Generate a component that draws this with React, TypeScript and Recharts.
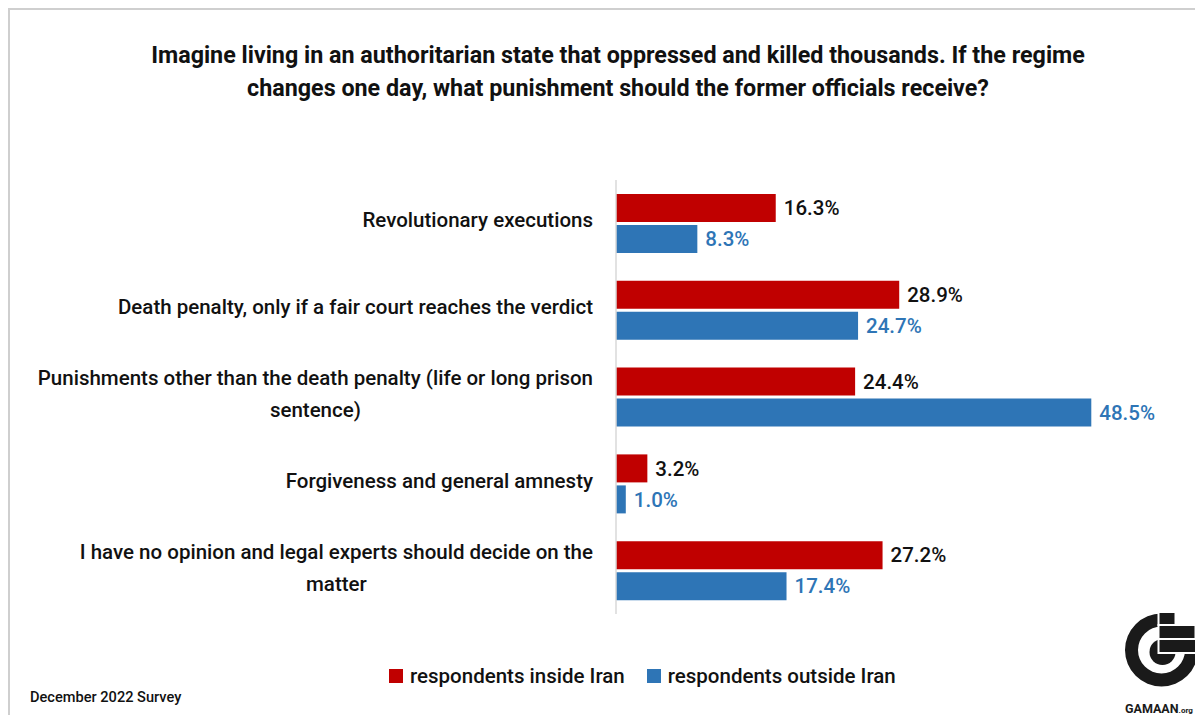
import React from "react";
import { BarChart, Bar, XAxis, YAxis, LabelList } from "recharts";

const categories = [
  ["Revolutionary executions"],
  ["Death penalty, only if a fair court reaches the verdict"],
  ["Punishments other than the death penalty (life or long prison", "sentence)"],
  ["Forgiveness and general amnesty"],
  ["I have no opinion and legal experts should decide on the", "matter"],
];
const insideIran = [16.3, 28.9, 24.4, 3.2, 27.2];
const outsideIran = [8.3, 24.7, 48.5, 1.0, 17.4];

const seriesNames = ["respondents inside Iran", "respondents outside Iran"];
const RED = "#C00000";
const BLUE = "#2E75B6";
const FONT = "Roboto, 'Noto Sans', sans-serif";
const LABEL_SIZE = 20.5;

const data = categories.map((lines, i) => ({
  name: lines.join(" "),
  lines,
  inside: insideIran[i],
  outside: outsideIran[i],
}));

let ctx: CanvasRenderingContext2D | null = null;
function textWidth(s: string, font: string) {
  if (!ctx) ctx = document.createElement("canvas").getContext("2d");
  if (!ctx) return s.length * 9;
  ctx.font = font;
  return ctx.measureText(s).width;
}

// multi-line category label: block is right-aligned, lines centred inside it
function CategoryTick(props: any) {
  const { x, y, payload, index } = props;
  const lines: string[] = data[index ?? 0]?.lines ?? [payload.value];
  const font = `500 ${LABEL_SIZE}px ${FONT}`;
  const w = Math.max(...lines.map((l) => textWidth(l, font)));
  const right = x - 15;
  const cx = right - w / 2;
  const lh = 32;
  const top = y - ((lines.length - 1) * lh) / 2 - 3;
  return (
    <text
      textAnchor="middle"
      fontFamily={FONT}
      fontSize={LABEL_SIZE}
      fontWeight={500}
      fill="#111"
      dominantBaseline="central"
    >
      {lines.map((l, i) => (
        <tspan key={i} x={cx} y={top + i * lh}>
          {l}
        </tspan>
      ))}
    </text>
  );
}

const fmt = (v: any) => `${Number(v).toFixed(1)}%`;

function Logo() {
  const cx = 51.5;
  const cy = 50;
  const R = 36.5;
  const r = 23.5;
  const ring = `M ${cx + R} ${cy} A ${R} ${R} 0 1 1 ${cx} ${cy - R} L ${cx} ${cy - r} A ${r} ${r} 0 1 0 ${cx + r} ${cy} Z`;
  return (
    <svg
      width={93}
      height={115}
      style={{ position: "absolute", left: 1100, top: 590 }}
    >
      <path d={ring} fill="#1a1a1a" />
      <circle cx={cx + 1} cy={cy + 2} r={13} fill="#1a1a1a" />
      <rect x={cx - 3} y={12} width={17} height={13} fill="#1a1a1a" stroke="#fff" strokeWidth={2} />
      <rect x={cx - 3} y={25} width={37} height={14} fill="#1a1a1a" stroke="#fff" strokeWidth={2} />
      <rect x={cx - 3} y={39} width={40} height={14} fill="#1a1a1a" stroke="#fff" strokeWidth={2} />
      <text x={15} y={113} fontFamily={FONT} fontWeight={700} fontSize={12.5} fill="#1a1a1a">
        GAMAAN<tspan fontSize={8}>.org</tspan>
      </text>
    </svg>
  );
}

export default function App() {
  return (
    <div
      style={{
        position: "relative",
        width: 1240,
        height: 720,
        border: "2px solid #cfcfcf",
        boxSizing: "border-box",
        background: "#fff",
        fontFamily: FONT,
      }}
    >
      <div
        style={{
          position: "absolute",
          left: 0,
          top: 29,
          width: 1216,
          textAlign: "center",
          fontSize: 23.3,
          fontWeight: 700,
          lineHeight: "33px",
          color: "#111",
        }}
      >
        Imagine living in an authoritarian state that oppressed and killed thousands. If the regime
        <br />
        changes one day, what punishment should the former officials receive?
      </div>

      <BarChart
        width={1195}
        height={705}
        data={data}
        layout="vertical"
        margin={{ top: 170, right: 99, bottom: 101, left: 0 }}
        barSize={28}
        barGap={3}
        barCategoryGap="33%"
      >
        <XAxis type="number" domain={[0, 50]} hide />
        <YAxis
          type="category"
          dataKey="name"
          width={606}
          axisLine={{ stroke: "#d9d9d9", strokeWidth: 1.5 }}
          tickLine={false}
          tick={<CategoryTick />}
          interval={0}
        />
        <Bar dataKey="inside" fill={RED} isAnimationActive={false}>
          <LabelList
            dataKey="inside"
            position="right"
            offset={8}
            formatter={fmt}
            style={{ fontSize: LABEL_SIZE, fontWeight: 500, fill: "#111", fontFamily: FONT }}
          />
        </Bar>
        <Bar dataKey="outside" fill={BLUE} isAnimationActive={false}>
          <LabelList
            dataKey="outside"
            position="right"
            offset={8}
            formatter={fmt}
            style={{ fontSize: LABEL_SIZE, fontWeight: 500, fill: BLUE, fontFamily: FONT }}
          />
        </Bar>
      </BarChart>

      <div
        style={{
          position: "absolute",
          left: 379,
          top: 654,
          display: "flex",
          alignItems: "center",
          fontSize: LABEL_SIZE,
          fontWeight: 500,
          color: "#111",
        }}
      >
        {seriesNames.map((n, i) => (
          <span key={n} style={{ display: "flex", alignItems: "center", marginRight: 22 }}>
            <span
              style={{
                width: 14,
                height: 14,
                background: i === 0 ? RED : BLUE,
                marginRight: 7,
                display: "inline-block",
              }}
            />
            {n}
          </span>
        ))}
      </div>

      <div
        style={{
          position: "absolute",
          left: 20,
          top: 678,
          fontSize: 14.6,
          fontWeight: 500,
          color: "#111",
        }}
      >
        December 2022 Survey
      </div>

      <Logo />
    </div>
  );
}
